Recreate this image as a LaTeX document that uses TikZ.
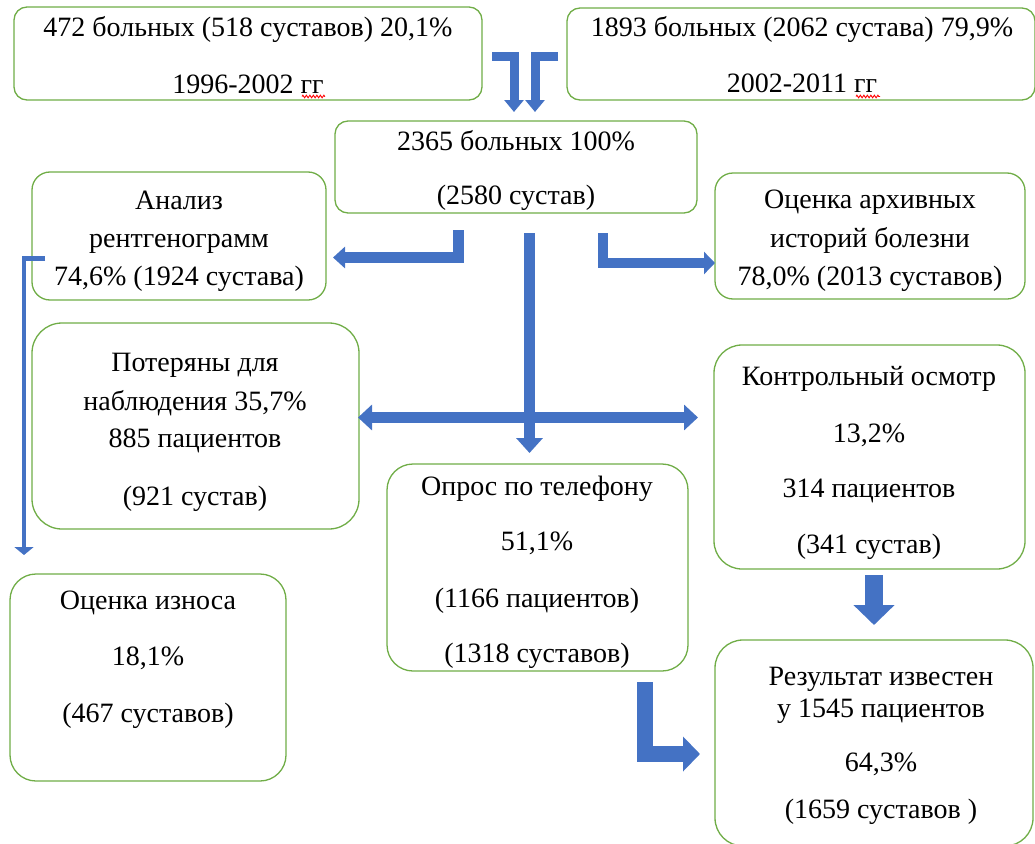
\documentclass[tikz,border=0pt]{standalone}
\usepackage{fontspec}
\setmainfont{Liberation Serif}
\newfontfamily\tnrfont{Liberation Serif}
\usetikzlibrary{arrows.meta,decorations.pathmorphing}
\definecolor{gboxc}{HTML}{70AD47}
\definecolor{arrblue}{HTML}{4472C4}
\tikzset{
  gbox/.style={draw=gboxc, line width=1.3pt, fill=white, inner sep=0pt, outer sep=0pt, anchor=north west},
  txt/.style={anchor=base, inner sep=0pt, font=\tnrfont\fontsize{28}{33}\selectfont},
  blk/.style={draw=arrblue, line join=miter, line cap=butt},
  squig/.style={draw=red, line width=0.9pt, decorate, decoration={zigzag, segment length=3.5pt, amplitude=1.3pt}}
}
\begin{document}
\begin{tikzpicture}[x=1pt,y=-1pt]
\useasboundingbox (0,0) rectangle (1035,843);
\clip (0,0) rectangle (1035,843);

% boxes
\node[gbox, rounded corners=13pt, minimum width=468pt, minimum height=93pt] (b1) at (14,7) {};
\node[gbox, rounded corners=13pt, minimum width=468pt, minimum height=92pt] (b2) at (567,8) {};
\node[gbox, rounded corners=13pt, minimum width=362pt, minimum height=92pt] (b3) at (335,121) {};
\node[gbox, rounded corners=18pt, minimum width=294pt, minimum height=128pt] (b4) at (32,172) {};
\node[gbox, rounded corners=18pt, minimum width=310pt, minimum height=126pt] (b5) at (715,173) {};
\node[gbox, rounded corners=30pt, minimum width=327pt, minimum height=206pt] (b6) at (32,323) {};
\node[gbox, rounded corners=28pt, minimum width=311pt, minimum height=224pt] (b7) at (714,345) {};
\node[gbox, rounded corners=26pt, minimum width=301pt, minimum height=207pt] (b8) at (387,464) {};
\node[gbox, rounded corners=26pt, minimum width=276pt, minimum height=207pt] (b9) at (10,574) {};
\node[gbox, rounded corners=28pt, minimum width=318pt, minimum height=206pt] (b10) at (715,640) {};

% texts
\node[txt] (t1a) at (248,37) {472 больных (518 суставов) 20,1\%};
\node[txt] (t1b) at (248,93) {1996-2002 гг};
\node[txt] (t2a) at (802,37) {1893 больных (2062 сустава) 79,9\%};
\node[txt] (t2b) at (802,92) {2002-2011 гг};
\node[txt] (t3a) at (516,150) {2365 больных 100\%};
\node[txt] (t3b) at (516,204) {(2580 сустав)};
\node[txt] (t4a) at (179,209) {Анализ};
\node[txt] (t4b) at (179,247) {рентгенограмм};
\node[txt] (t4c) at (179,285) {74,6\% (1924 сустава)};
\node[txt] (t5a) at (870,208) {Оценка архивных};
\node[txt] (t5b) at (870,247) {историй болезни};
\node[txt] (t5c) at (870,285) {78,0\% (2013 суставов)};
\node[txt] (t6a) at (195,371) {Потеряны для};
\node[txt] (t6b) at (195,410) {наблюдения 35,7\%};
\node[txt] (t6c) at (195,447) {885 пациентов};
\node[txt] (t6d) at (195,505) {(921 сустав)};
\node[txt] (t7a) at (869,385) {Контрольный осмотр};
\node[txt] (t7b) at (869,442) {13,2\%};
\node[txt] (t7c) at (869,497) {314 пациентов};
\node[txt] (t7d) at (869,553) {(341 сустав)};
\node[txt] (t8a) at (537,495) {Опрос по телефону};
\node[txt] (t8b) at (537,550) {51,1\%};
\node[txt] (t8c) at (537,607) {(1166 пациентов)};
\node[txt] (t8d) at (537,662) {(1318 суставов)};
\node[txt] (t9a) at (148,609) {Оценка износа};
\node[txt] (t9b) at (148,665) {18,1\%};
\node[txt] (t9c) at (148,722) {(467 суставов)};
\node[txt] (t10a) at (881,685) {Результат известен};
\node[txt] (t10b) at (881,717) {у 1545 пациентов};
\node[txt] (t10c) at (881,771) {64,3\%};
\node[txt] (t10d) at (881,818) {(1659 суставов )};

% spell-check squiggles
\draw[squig] (302,96.5) -- (325,96.5);
\draw[squig] (856,96.5) -- (880,96.5);

% connector coordinates
\coordinate (c1s) at (492,56.5); \coordinate (c1m) at (514,56.5); \coordinate (c1e) at (514,112);
\coordinate (c2s) at (558,56.5); \coordinate (c2m) at (535,56.5); \coordinate (c2e) at (535,112);
\coordinate (c3s) at (458,230);  \coordinate (c3m) at (458,257.5); \coordinate (c3e) at (333,257.5);
\coordinate (c4s) at (529.5,233); \coordinate (c4e) at (529.5,453);
\coordinate (c5s) at (358,417.5); \coordinate (c5e) at (698,417.5);
\coordinate (c6s) at (603,233); \coordinate (c6m) at (603,263); \coordinate (c6e) at (715,263);
\coordinate (c7s) at (45,258.5); \coordinate (c7m) at (24,258.5); \coordinate (c7e) at (24,555);
\coordinate (c8s) at (874,575); \coordinate (c8e) at (874,625);
\coordinate (c9s) at (644.5,682); \coordinate (c9m) at (644.5,754); \coordinate (c9e) at (700,754);

% block arrows
\draw[blk, line width=9pt, -{Triangle[width=19pt,length=12pt]}] (c1s) -- (c1m) -- (c1e);
\draw[blk, line width=9pt, -{Triangle[width=19pt,length=12pt]}] (c2s) -- (c2m) -- (c2e);
\draw[blk, line width=11pt, -{Triangle[width=21pt,length=12pt]}] (c3s) -- (c3m) -- (c3e);
\draw[blk, line width=11pt, -{Triangle[width=26pt,length=15pt]}] (c4s) -- (c4e);
\draw[blk, line width=11pt, {Triangle[width=25pt,length=14pt]}-{Triangle[width=25pt,length=14pt]}] (c5s) -- (c5e);
\draw[blk, line width=10pt, -{Triangle[width=22pt,length=11pt]}] (c6s) -- (c6m) -- (c6e);
\draw[blk, line width=4.5pt, -{Triangle[width=19pt,length=8pt]}] (c7s) -- (c7m) -- (c7e);
\draw[blk, line width=18pt, -{Triangle[width=40pt,length=20pt]}] (c8s) -- (c8e);
\draw[blk, line width=16pt, -{Triangle[width=34pt,length=17pt]}] (c9s) -- (c9m) -- (c9e);
\end{tikzpicture}
\end{document}
